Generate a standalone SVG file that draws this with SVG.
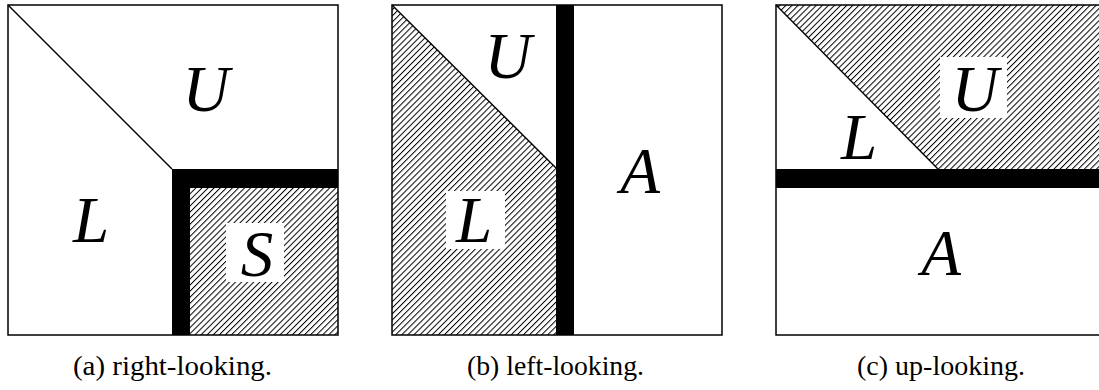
<svg xmlns="http://www.w3.org/2000/svg" width="1099" height="390" viewBox="0 0 1099 390">
<style>
.frame{fill:none;stroke:#000;stroke-width:1.5}
.diag{stroke:#000;stroke-width:1.4;fill:none}
.band{fill:#000}
.hatch{fill:url(#hatch)}
.knock{fill:#fff}
.m{font-family:"Liberation Serif","Times New Roman",serif;font-style:italic;font-size:65px;text-anchor:middle;fill:#000}
.cap{font-family:"Liberation Serif","Times New Roman",serif;font-size:28px;fill:#000}
</style>
<defs>
<pattern id="hatch" patternUnits="userSpaceOnUse" width="4.3" height="10" patternTransform="rotate(45)">
<rect width="4.3" height="10" fill="#fff"/>
<line x1="0.5" y1="0" x2="0.5" y2="10" stroke="#000" stroke-width="1"/>
</pattern>
</defs>
<rect width="1099" height="390" fill="#fff"/>
<g id="panel-a">
<rect class="hatch" x="190" y="188" width="148" height="147"/>
<rect class="knock" x="226" y="223" width="58" height="59"/>
<line class="diag" x1="8" y1="5" x2="172" y2="169"/>
<rect class="band" x="172" y="169" width="18" height="166"/>
<rect class="band" x="172" y="169" width="166" height="19"/>
<rect class="frame" x="8" y="5" width="330" height="330"/>
<text class="m" x="206" y="111">U</text>
<text class="m" x="91" y="242">L</text>
<text class="m" x="257" y="276">S</text>
<text class="cap" x="73" y="375" textLength="199" lengthAdjust="spacingAndGlyphs">(a) right-looking.</text>
</g>
<g id="panel-b">
<polygon class="hatch" points="392,5 556,168 556,335 392,335"/>
<rect class="knock" x="446" y="191" width="59" height="58"/>
<line class="diag" x1="392" y1="5" x2="556" y2="168"/>
<rect class="band" x="556" y="5" width="18" height="330"/>
<rect class="frame" x="392" y="5" width="330" height="330"/>
<text class="m" x="508" y="78">U</text>
<text class="m" x="474" y="242">L</text>
<text class="m" x="640" y="193">A</text>
<text class="cap" x="467" y="375" textLength="177" lengthAdjust="spacingAndGlyphs">(b) left-looking.</text>
</g>
<g id="panel-c">
<polygon class="hatch" points="776,5 1106,5 1106,169 938,169"/>
<rect class="knock" x="940" y="57" width="67" height="61"/>
<line class="diag" x1="776" y1="5" x2="938" y2="169"/>
<rect class="band" x="776" y="169" width="330" height="19"/>
<rect class="frame" x="776" y="5" width="330" height="330"/>
<text class="m" x="975" y="111">U</text>
<text class="m" x="859" y="159">L</text>
<text class="m" x="941" y="275">A</text>
<text class="cap" x="857" y="375" textLength="168" lengthAdjust="spacingAndGlyphs">(c) up-looking.</text>
</g>
</svg>
